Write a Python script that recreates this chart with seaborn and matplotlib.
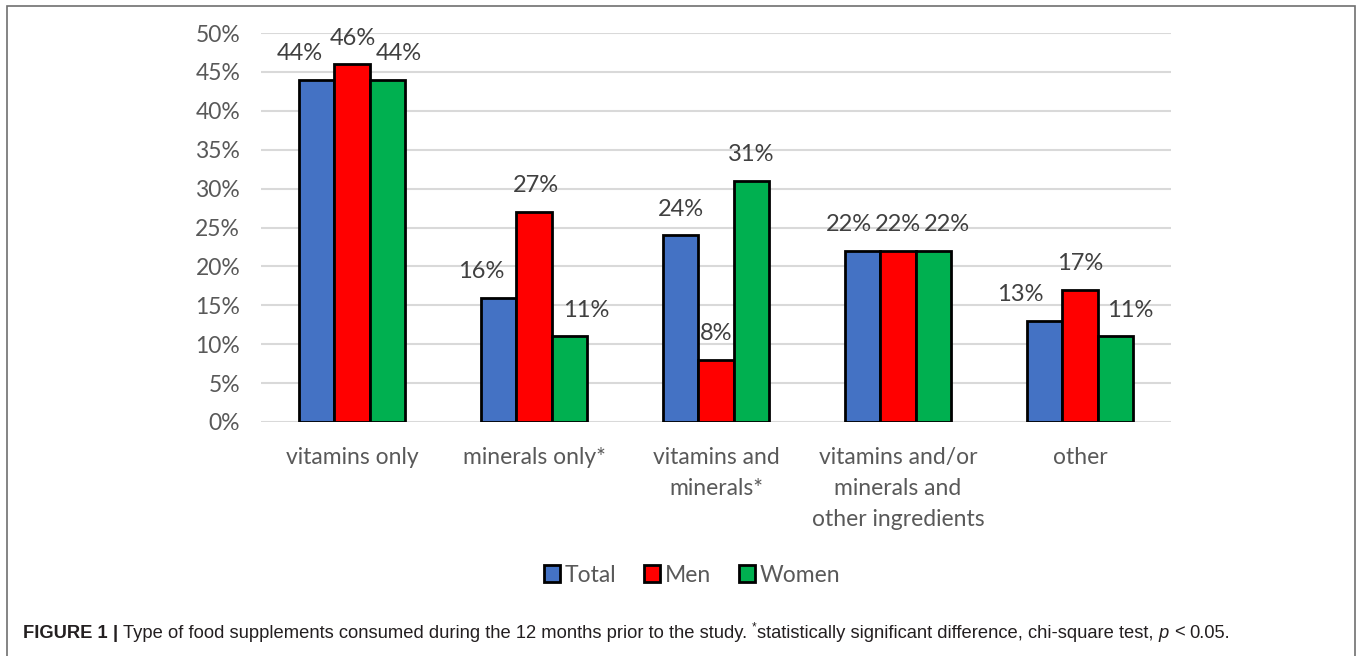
import numpy as np
import pandas as pd
import matplotlib
matplotlib.use("Agg")
import matplotlib.pyplot as plt
from matplotlib.patches import Rectangle, Patch
import seaborn as sns

# ---------------- data ----------------
categories = [
    "vitamins only",
    "minerals only*",
    "vitamins and\nminerals*",
    "vitamins and/or\nminerals and\nother ingredients",
    "other",
]
series_names = ["Total", "Men", "Women"]
total_pct = [44, 16, 24, 22, 13]
men_pct = [46, 27, 8, 22, 17]
women_pct = [44, 11, 31, 22, 11]
y_ticks = [0, 5, 10, 15, 20, 25, 30, 35, 40, 45, 50]

# ---------------- style ----------------
colors = ["#4472C4", "#FF0000", "#00B050"]
# horizontal nudges of the value labels (pixels), per series, per category
label_dx = [
    [-17, -18, 0, -14, -25],
    [1, 2, 0, 0, 0],
    [12, 17, 0, 14, 15],
]

W, H = 1357, 656

df = pd.DataFrame({
    "category": categories * 3,
    "group": np.repeat(series_names, len(categories)),
    "value": total_pct + men_pct + women_pct,
})

sns.set_theme(style="white")
plt.rcParams["font.family"] = ["Lato", "DejaVu Sans"]

fig = plt.figure(figsize=(W / 100, H / 100), dpi=100)
fig.patch.set_facecolor("white")
ax = fig.add_axes([261 / W, 1 - 422 / H, 910 / W, 389 / H])

sns.barplot(
    data=df, x="category", y="value", hue="group",
    order=categories, hue_order=series_names, palette=colors,
    width=0.58, saturation=1, edgecolor="black", linewidth=2,
    errorbar=None, legend=False, ax=ax,
)

ax.set_xlim(-0.5, len(categories) - 0.5)
ax.set_ylim(0, 50)
ax.set_yticks(y_ticks)
ax.set_yticklabels([f"{t}%" for t in y_ticks])
ax.set_xlabel("")
ax.set_ylabel("")
for s in ax.spines.values():
    s.set_visible(False)
ax.yaxis.grid(True, color="#d9d9d9", linewidth=1.5)
ax.xaxis.grid(False)
ax.set_axisbelow(True)
ax.tick_params(axis="y", length=0, pad=15, labelsize=16.5, labelcolor="#595959")
ax.tick_params(axis="x", length=0, pad=18, labelsize=16.5, labelcolor="#595959")
for lab in ax.get_xticklabels():
    lab.set_linespacing(1.58)
    lab.set_verticalalignment("top")

for hi, cont in enumerate(ax.containers):
    for bi, bar in enumerate(cont):
        x = bar.get_x() + bar.get_width() / 2
        y = bar.get_height()
        ax.annotate(f"{y:.0f}%", (x, y),
                    xytext=(label_dx[hi][bi] * 0.72, 26 * 0.72),
                    textcoords="offset points", ha="center", va="center",
                    fontsize=17, color="#404040")

handles = [Patch(facecolor=c, edgecolor="black", linewidth=2, label=n)
           for c, n in zip(colors, series_names)]
leg = fig.legend(handles=handles, loc="center",
                 bbox_to_anchor=(692 / W, 1 - 575 / H), ncol=3, frameon=False,
                 handlelength=0.72, handleheight=0.72, handletextpad=0.2,
                 columnspacing=1.2, fontsize=16.5)
for t in leg.get_texts():
    t.set_color("#595959")

# frame
fig.patches.append(Rectangle((7 / W, -0.05), (1355 - 7) / W, 1.05 - 6 / H,
                             transform=fig.transFigure, fill=False,
                             edgecolor="#707070", linewidth=1.2))

# caption
fig.canvas.draw()
rend = fig.canvas.get_renderer()
cap_font = ["Liberation Sans", "DejaVu Sans"]
cap_size = 13.2
cap_y = 1 - 633 / H

def twidth(s, **kw):
    t = fig.text(0, 0, s, fontsize=kw.get("fontsize", cap_size),
                 family=cap_font, weight=kw.get("weight", "normal"),
                 style=kw.get("style", "normal"))
    w = t.get_window_extent(rend).width
    t.remove()
    return w

space_w = twidth("x x") - twidth("xx")
pieces = [
    ("FIGURE 1", dict(weight="bold"), True),
    ("|", dict(weight="bold"), True),
    ("Type of food supplements consumed during the 12 months prior to the study.", {}, True),
    ("*", dict(fontsize=8.5, dy=6), False),
    ("statistically significant difference, chi-square test,", {}, True),
    ("p", dict(style="italic"), True),
    ("<", {}, True),
    ("0.05.", {}, False),
]
xpx = 23
for s, kw, sp in pieces:
    fs = kw.get("fontsize", cap_size)
    t = fig.text(xpx / W, cap_y + kw.get("dy", 0) / H, s, fontsize=fs,
                 family=cap_font, weight=kw.get("weight", "normal"),
                 style=kw.get("style", "normal"), color="#231f20",
                 va="center", ha="left")
    xpx += t.get_window_extent(rend).width + (space_w if sp else 0)

fig.savefig("out.png", dpi=100, facecolor="white")
